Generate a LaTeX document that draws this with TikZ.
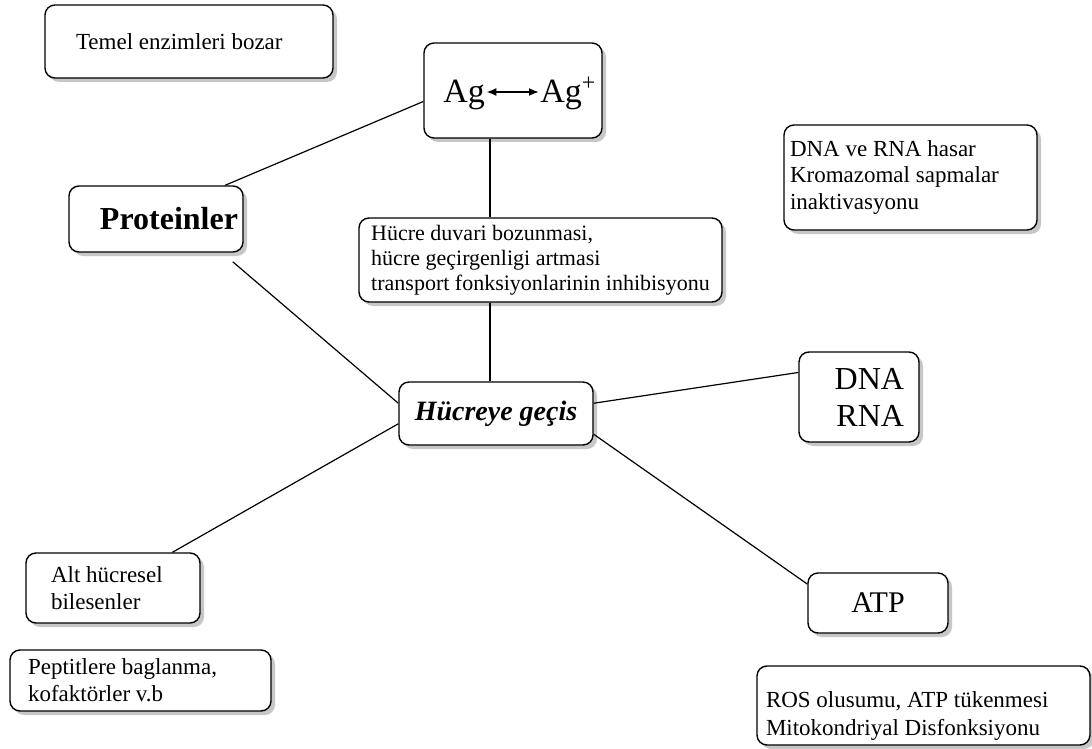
\documentclass[tikz,border=0pt]{standalone}
\usepackage{fontspec}
\setmainfont{Liberation Serif}
\usetikzlibrary{arrows.meta,shadows}

\begin{document}
\begin{tikzpicture}[x=0.5pt,y=-0.5pt,>={Latex[length=5pt,width=4pt]},
    kutu/.style={draw,line width=0.7pt,rounded corners=5pt,fill=white,
      drop shadow={shadow xshift=2pt,shadow yshift=-2pt,opacity=1,fill=black!22},
      font=\fontsize{11.5}{13.4}\selectfont,inner ysep=0pt},
    bag/.style={line width=0.6pt}]
  \useasboundingbox[fill=white] (0,0) rectangle (1092,749);

  % kutular
  \node[kutu,text width=113pt,inner xsep=15.5pt,align=flush left,minimum height=36.5pt] (temel) at (189,41.5) {Temel enzimleri bozar};
  \node[kutu,minimum width=89pt,minimum height=47.5pt] (agbox) at (513,90.5) {};
  \node[font=\fontsize{17}{20}\selectfont,inner sep=0.5pt,anchor=base west] (ag) at (442,103) {Ag};
  \node[font=\fontsize{17}{20}\selectfont,inner sep=0.5pt,anchor=base west] (agp) at (539,103) {Ag\textsuperscript{+}};
  \node[kutu,text width=82pt,inner xsep=2.5pt,align=flush right,minimum height=33pt,font=\fontsize{16}{19}\selectfont\bfseries] (prot) at (156,219) {Proteinler};
  \node[kutu,minimum width=181.5pt,minimum height=42pt,align=flush left,font=\fontsize{11}{12.5}\selectfont] (duvar) at (540.5,260) {Hücre duvari bozunmasi,\\hücre geçirgenligi artmasi\\transport fonksiyonlarinin inhibisyonu};
  \node[kutu,minimum width=97pt,minimum height=31.5pt,font=\fontsize{14}{17}\selectfont\bfseries\itshape] (hc) at (496,413.5) {Hücreye geçis};
  \node[kutu,text width=120.5pt,inner xsep=3pt,align=flush left,minimum height=52.5pt] (dnaverna) at (910.5,177.5) {DNA ve RNA hasar\\Kromazomal sapmalar\\inaktivasyonu};
  \node[kutu,text width=45pt,inner xsep=7.5pt,align=flush right,minimum height=45pt,font=\fontsize{16}{18.5}\selectfont] (dna) at (859,397) {DNA\\RNA};
  \node[kutu,text width=62pt,inner xsep=12.5pt,align=flush left,minimum height=35pt] (alt) at (113,588) {Alt hücresel\\bilesenler};
  \node[kutu,text width=112.5pt,inner xsep=9pt,align=flush left,minimum height=30.5pt] (pep) at (140.5,680.5) {Peptitlere baglanma,\\kofaktörler v.b};
  \node[kutu,minimum width=70pt,minimum height=30pt,font=\fontsize{15}{18}\selectfont] (atp) at (878,603) {ATP};
  \node[kutu,text width=157.5pt,inner xsep=4.5pt,align=flush left,minimum height=39.5pt,font=\fontsize{11.5}{14}\selectfont] (ros) at (923.5,705.5) {\rule{0pt}{18pt}ROS olusumu, ATP tükenmesi\\Mitokondriyal Disfonksiyonu};

  % baglantilar
  \draw[<->,line width=0.9pt] ([yshift=5.5pt]ag.base east) -- ([yshift=5.5pt]agp.base west);
  \draw[bag] (prot.26) -- (agbox.187);
  \draw[bag] ([xshift=-3pt]hc.north |- agbox.south) -- ([xshift=-3pt]hc.north |- duvar.north);
  \draw[bag] ([xshift=-3pt]hc.north |- duvar.south) -- ([xshift=-3pt]hc.north);
  \draw[bag,shorten >=7pt] (hc.174) -- (prot.333);
  \draw[bag] (hc.186) -- (alt.31);
  \draw[bag] (hc.6) -- (dna.158);
  \draw[bag] (hc.348) -- (atp.165);
\end{tikzpicture}
\end{document}
